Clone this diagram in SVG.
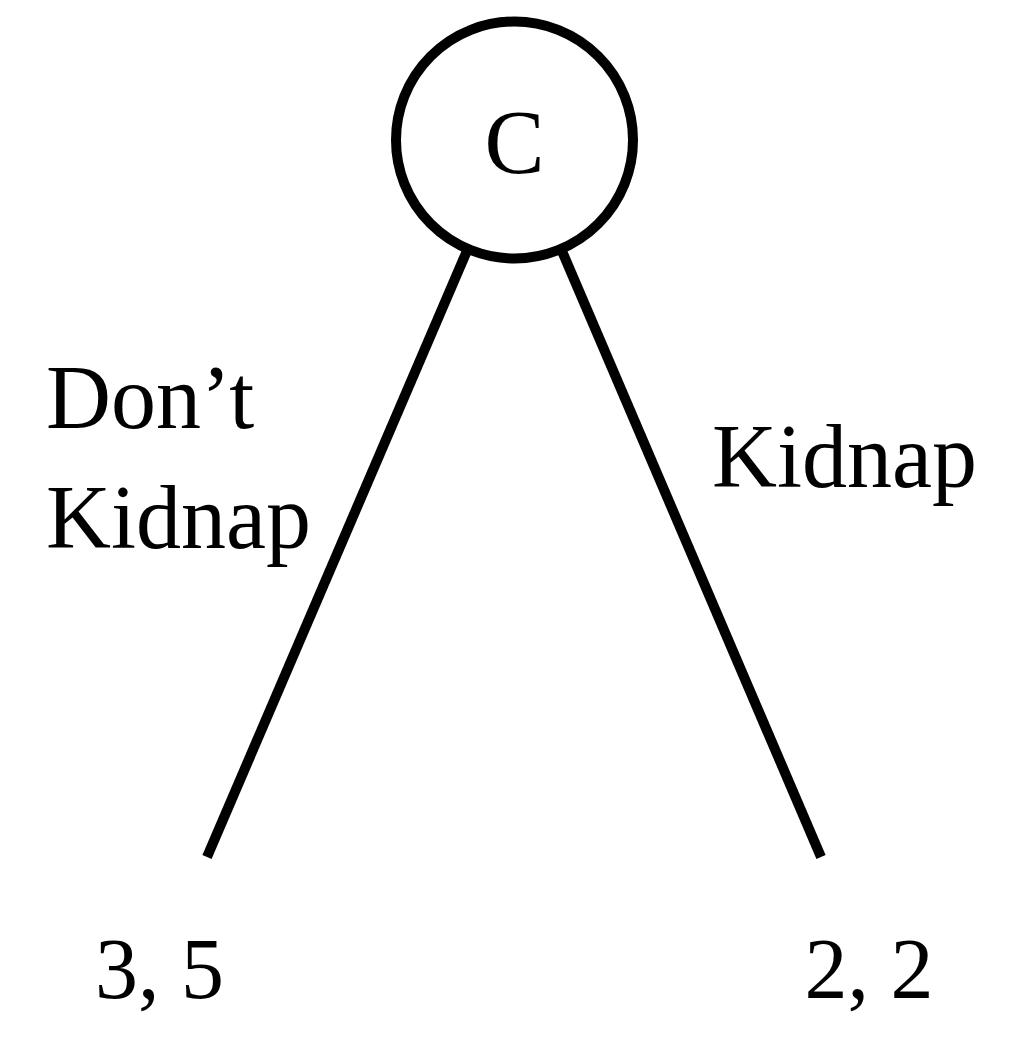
<svg xmlns="http://www.w3.org/2000/svg" width="1029" height="1046" viewBox="0 0 1029 1046">
<style>
.edge{stroke:#000;stroke-width:10;fill:none}
.node{stroke:#000;stroke-width:10;fill:#fff}
.t{font-family:"Liberation Serif","Times New Roman",serif;font-size:90px;fill:#000}
.n{font-family:"Liberation Serif","Times New Roman",serif;font-size:86px;fill:#000}
</style>
<rect width="1029" height="1046" fill="#fff"/>
<g id="connectors">
<line class="edge" x1="514.5" y1="140" x2="207" y2="857"/>
<line class="edge" x1="514.5" y1="140" x2="821" y2="857"/>
</g>
<g id="node-C">
<circle class="node" cx="514.5" cy="140" r="118.5"/>
<text class="t" x="514.5" y="173" text-anchor="middle">C</text>
</g>
<g id="label-dont-kidnap">
<text class="t" x="46" y="428">Don’t</text>
<text class="t" x="46" y="548">Kidnap</text>
</g>
<g id="label-kidnap">
<text class="t" x="712" y="487">Kidnap</text>
</g>
<g id="leaf-left">
<text class="n" x="159.5" y="998" text-anchor="middle">3, 5</text>
</g>
<g id="leaf-right">
<text class="n" x="869" y="998" text-anchor="middle">2, 2</text>
</g>
</svg>
